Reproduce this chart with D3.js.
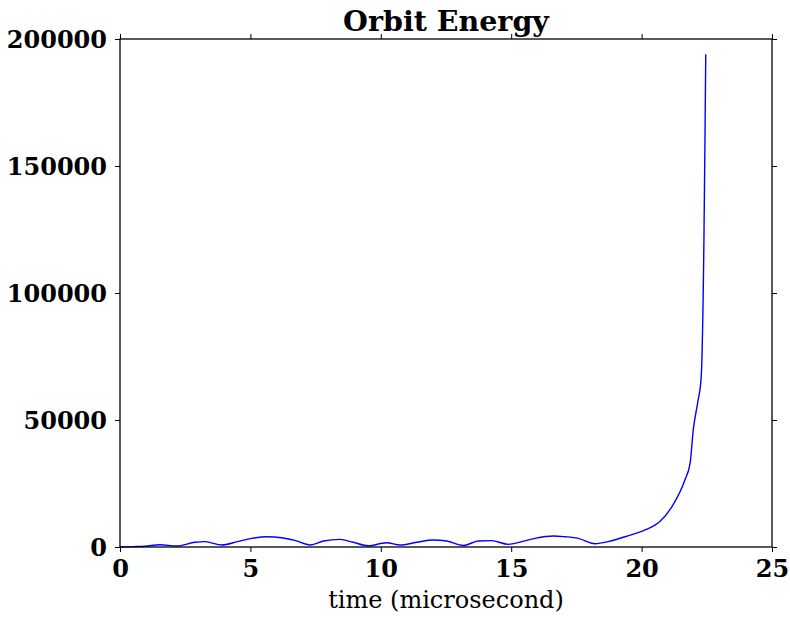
<!DOCTYPE html>
<meta charset="utf-8">
<script src="https://d3js.org/d3.v7.min.js"></script>
<style>
    body { margin: 0; background: #fff; }
    .tick-label { font-family: "DejaVu Serif", serif; font-weight: bold; font-size: 24px; fill: #000; }
    .title { font-family: "DejaVu Serif", serif; font-weight: bold; font-size: 28.5px; fill: #000; }
    .xlabel { font-family: "DejaVu Serif", serif; font-size: 24px; fill: #000; }
</style>
<div id="chart"></div>
<script>
    // time in microseconds and the orbit energy
    const time = [0, 0.5, 0.96, 1.53, 2.17, 2.88, 3.26, 3.9, 4.5, 5.05, 5.62, 6.2, 6.7, 7.3, 7.8,
        8.43, 8.94, 9.52, 10.22, 10.74, 11.37, 12.01, 12.53, 13.16, 13.74, 14.25, 14.89, 15.4,
        15.91, 16.62, 17.06, 17.57, 18.21, 18.72, 19.36, 20.13, 20.7, 21.2, 21.66, 21.86, 21.98,
        22.17, 22.28, 22.39, 22.43, 22.46];
    const energy = [0, 150, 300, 900, 400, 1850, 2100, 800, 2100, 3400, 4050, 3650, 2600, 800, 2350,
        3000, 1850, 500, 1700, 800, 1850, 2750, 2350, 600, 2350, 2500, 1050, 2100,
        3400, 4350, 4050, 3400, 1300, 2100, 4050, 6700, 10000, 16500, 26400, 33000, 46000,
        58000, 66000, 121000, 160600, 194000];
    const xTicks = [0, 5, 10, 15, 20, 25];
    const yTicks = [0, 50000, 100000, 150000, 200000];

    const W = 790, H = 617;
    const margin = {top: 39, right: 18, bottom: 70, left: 120};
    const width = W - margin.left - margin.right,
          height = H - margin.top - margin.bottom;

    const svg = d3.select("#chart").append("svg")
        .attr("width", W)
        .attr("height", H);
    const g = svg.append("g")
        .attr("transform", `translate(${margin.left},${margin.top})`);

    const x = d3.scaleLinear().domain([0, 25]).range([0, width]);
    const y = d3.scaleLinear().domain([0, 200000]).range([height, 0]);

    const data = time.map((t, i) => ({t: t, e: energy[i]}));

    // ticks on all four sides, pointing out
    const tickLen = 5;
    function styleAxis(sel) {
        sel.select(".domain").remove();
        sel.selectAll(".tick line").attr("stroke", "#000").attr("stroke-width", 1);
    }
    g.append("g").attr("transform", `translate(0,${height})`)
        .call(d3.axisBottom(x).tickValues(xTicks).tickSize(tickLen).tickPadding(8).tickFormat(d3.format("d")))
        .call(styleAxis)
        .selectAll("text").attr("class", "tick-label").attr("dy", "0.71em");
    g.append("g")
        .call(d3.axisTop(x).tickValues(xTicks).tickSize(tickLen).tickFormat(""))
        .call(styleAxis);
    g.append("g")
        .call(d3.axisLeft(y).tickValues(yTicks).tickSize(tickLen).tickPadding(8).tickFormat(d3.format("d")))
        .call(styleAxis)
        .selectAll("text").attr("class", "tick-label").attr("dy", "0.36em");
    g.append("g").attr("transform", `translate(${width},0)`)
        .call(d3.axisRight(y).tickValues(yTicks).tickSize(tickLen).tickFormat(""))
        .call(styleAxis);

    // the line
    const line = d3.line()
        .x(d => x(d.t))
        .y(d => y(d.e))
        .curve(d3.curveMonotoneX);
    g.append("path")
        .datum(data)
        .attr("d", line)
        .attr("fill", "none")
        .attr("stroke", "#0000ff")
        .attr("stroke-width", 1.4);

    // frame
    g.append("rect")
        .attr("width", width)
        .attr("height", height)
        .attr("fill", "none")
        .attr("stroke", "#000")
        .attr("stroke-width", 1.3);

    svg.append("text")
        .attr("class", "title")
        .attr("x", margin.left + width / 2)
        .attr("y", 31)
        .attr("text-anchor", "middle")
        .text("Orbit Energy");

    svg.append("text")
        .attr("class", "xlabel")
        .attr("x", margin.left + width / 2)
        .attr("y", 608)
        .attr("text-anchor", "middle")
        .text("time (microsecond)");
</script>
